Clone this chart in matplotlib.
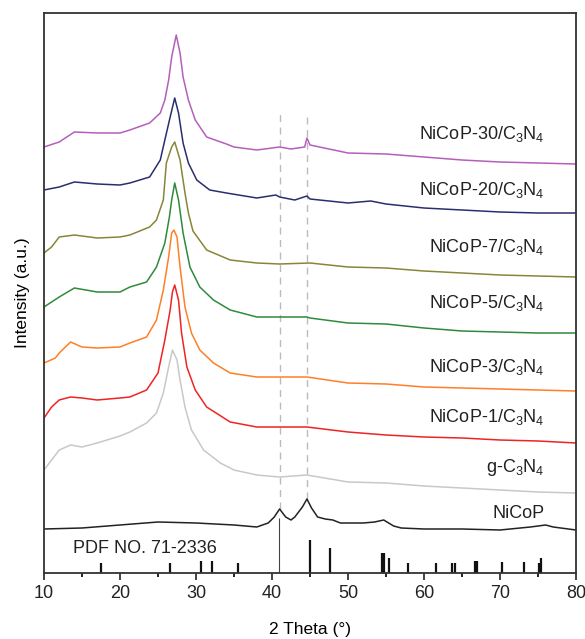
import matplotlib
matplotlib.use('Agg')
import matplotlib.pyplot as plt

plt.rcParams['font.family'] = ['Liberation Sans', 'DejaVu Sans']
plt.rcParams['mathtext.default'] = 'regular'

# stacked XRD patterns (offsets included)
x_30 = [10, 12, 14, 17, 20, 21.3, 23.9, 25.3, 25.9, 26.4, 26.8, 27.4, 27.9, 28.3, 29.0, 29.9, 31.4, 34.0, 35, 38, 41, 42.5, 44.3, 44.6, 45, 50, 55, 60, 65, 70, 75, 80]
y_30 = [426, 431, 441, 440, 440, 443, 450, 460, 473, 493, 516, 538, 520, 496, 473, 453, 436, 429, 426, 423, 426, 424, 426, 435, 428, 420, 419, 416, 413, 411, 410, 409]

x_20 = [10, 12, 14, 17, 20, 21.3, 23.9, 25.3, 25.9, 26.6, 27.2, 27.7, 28.3, 29.0, 30.1, 31.8, 34.0, 38, 40.5, 41, 43, 44.6, 45, 50, 53, 55, 60, 65, 70, 75, 80]
y_20 = [383, 386, 391, 389, 388, 390, 396, 413, 433, 456, 475, 460, 430, 410, 393, 383, 380, 375, 378, 376, 373, 377, 374, 370, 372, 369, 365, 363, 361, 360, 360]

x_7 = [10, 11, 12, 14, 17, 20, 21.3, 23.9, 24.8, 25.7, 26.1, 26.8, 27.2, 27.9, 28.55, 29.0, 29.6, 31.4, 34.5, 38, 41, 45, 50, 55, 60, 65, 70, 75, 80]
y_7 = [320, 326, 336, 338, 335, 336, 338, 346, 353, 373, 410, 426, 431, 413, 380, 360, 342, 323, 313, 310, 309, 310, 306, 305, 302, 300, 298, 297, 296]

x_5 = [10, 12, 14, 17, 20, 21.3, 23.5, 24.8, 25.9, 26.5, 26.8, 27.2, 27.7, 28.3, 29.2, 30.5, 32.3, 34.5, 38, 41, 44.6, 45, 50, 55, 60, 65, 70, 75, 80]
y_5 = [266, 276, 285, 281, 281, 286, 291, 306, 330, 356, 373, 390, 373, 340, 306, 286, 273, 263, 256, 256, 256, 255, 250, 249, 245, 242, 241, 240, 240]

x_3 = [10, 11.5, 12, 13.5, 15, 17, 20, 21.3, 23.5, 24.8, 25.7, 26.4, 26.8, 27.1, 27.5, 27.9, 28.55, 29.4, 30.5, 32.3, 34.5, 38, 41, 44.6, 50, 55, 60, 65, 70, 75, 80]
y_3 = [210, 215, 220, 231, 226, 225, 226, 230, 236, 253, 283, 316, 340, 343, 336, 306, 266, 240, 223, 210, 200, 196, 196, 196, 190, 189, 186, 185, 184, 183, 182]

x_1 = [10, 11, 12, 13.5, 15, 17, 20, 21.3, 23.5, 25.0, 25.9, 26.6, 26.9, 27.2, 27.7, 28.1, 28.8, 29.9, 31.4, 34.5, 38, 41, 44.6, 50, 55, 60, 65, 70, 75, 80]
y_1 = [155, 166, 173, 176, 175, 173, 175, 176, 183, 200, 233, 263, 281, 288, 273, 240, 206, 183, 166, 151, 146, 146, 146, 141, 138, 136, 135, 133, 132, 130]

x_g = [10, 11, 12, 13.5, 15, 17, 20, 21.3, 23.5, 24.8, 25.7, 26.4, 26.9, 27.5, 27.9, 28.55, 29.4, 31.0, 33.2, 35, 38, 41, 44.6, 50, 55, 60, 65, 70, 75, 80]
y_g = [103, 113, 123, 128, 126, 130, 137, 141, 150, 160, 180, 206, 223, 213, 193, 166, 143, 123, 110, 103, 98, 96, 98, 91, 90, 87, 85, 83, 81, 80]

x_nicop = [10, 15, 20, 25, 30, 35, 38, 39.5, 40.3, 41, 41.8, 42.5, 43, 44, 44.6, 45.2, 46, 47, 48, 49, 50, 52, 53.5, 54.7, 56, 57, 60, 65, 70, 74, 76, 77, 80]
y_nicop = [44, 45, 48, 51, 50, 48, 46, 50, 56, 64, 56, 53, 56, 66, 74, 65, 56, 54, 53, 50, 50, 50, 51, 53, 47, 45, 44, 44, 43, 46, 48, 46, 43]

# PDF 71-2336 reference sticks
pdf_pos = [17.5, 26.6, 30.7, 32.1, 35.5, 45.0, 47.6, 54.5, 54.7, 55.4, 57.9, 61.6, 63.7, 64.1, 66.7, 67.0, 70.3, 73.2, 75.1, 75.4]
pdf_h = [10, 10, 12, 12, 10, 33, 25, 20, 20, 15, 10, 10, 10, 10, 12, 12, 11, 11, 10, 15]

names = ['NiCoP-30/C$_3$N$_4$', 'NiCoP-20/C$_3$N$_4$', 'NiCoP-7/C$_3$N$_4$', 'NiCoP-5/C$_3$N$_4$',
         'NiCoP-3/C$_3$N$_4$', 'NiCoP-1/C$_3$N$_4$', 'g-C$_3$N$_4$', 'NiCoP']
label_y = [434, 378, 321, 265, 201, 151, 101, 55]
colors = ['#b45fbb', '#2b2e6e', '#86863a', '#2f8a3e', '#ff7f27', '#ee2424', '#c8c8c8', '#222222']

xs = [x_30, x_20, x_7, x_5, x_3, x_1, x_g, x_nicop]
ys = [y_30, y_20, y_7, y_5, y_3, y_1, y_g, y_nicop]

fig = plt.figure(figsize=(5.85, 6.39), dpi=100)
ax = fig.add_axes([44 / 585, 1 - 573 / 639, 532 / 585, 560 / 639])

# dashed guide lines at the NiCoP peaks
ax.plot([41, 41], [64, 460], color='#bbbbbb', lw=1, ls=(0, (5, 4)))
ax.plot([44.6, 44.6], [74, 460], color='#bbbbbb', lw=1, ls=(0, (5, 4)))

for x, y, c in zip(xs, ys, colors):
    ax.plot(x, y, color=c, lw=1.1)

for name, ly in zip(names, label_y):
    ax.text(75.9, ly, name, ha='right', va='baseline', fontsize=13, color='#222222')

# reference pattern
ax.vlines(40.9, 0, 55, color='#444444', lw=0.8)
ax.vlines(pdf_pos, 0, pdf_h, color='#111111', lw=1.6)
ax.text(13.8, 20, 'PDF NO. 71-2336', ha='left', va='baseline', fontsize=13, color='#222222')

ax.set_xlim(10, 80)
ax.set_ylim(0, 560)
ax.set_yticks([])
ax.set_xticks(range(10, 81, 10))
ax.set_xticks(range(15, 80, 10), minor=True)
ax.tick_params(axis='x', direction='out', length=5, width=1.2, labelsize=13, pad=4, colors='#222222')
ax.tick_params(axis='x', which='minor', direction='out', length=3, width=1.2)
for s in ax.spines.values():
    s.set_linewidth(1.3)
    s.set_color('#333333')

ax.set_xlabel('2 Theta (°)', fontsize=12.5, labelpad=14)
ax.set_ylabel('Intensity (a.u.)', fontsize=12.5, labelpad=10)

fig.savefig('out.png', dpi=100)
